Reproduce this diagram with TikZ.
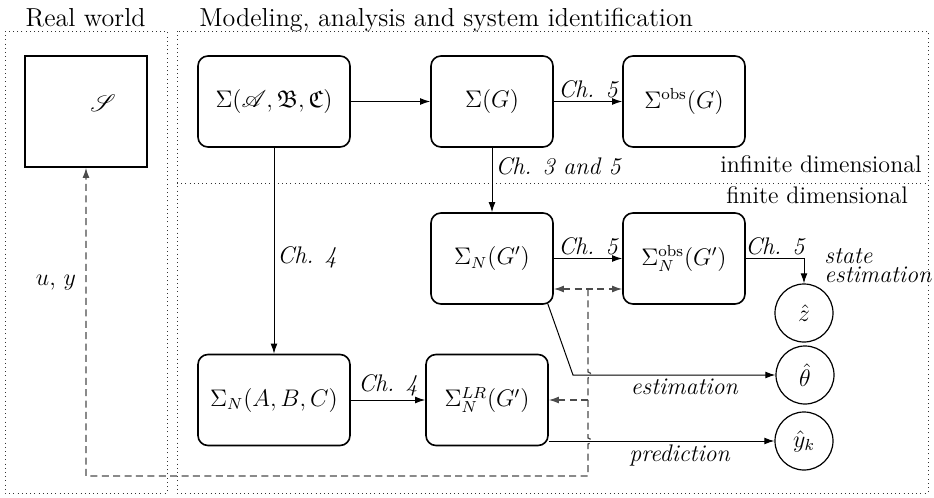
\documentclass[tikz,border=0pt]{standalone}
\usepackage{amssymb}
\usepackage{mathrsfs}
\usetikzlibrary{arrows.meta,calc}

\begin{document}
\begin{tikzpicture}[x=0.5pt,y=-0.5pt,
  >={Latex[length=5pt,width=3.4pt]},
  every node/.style={font=\fontsize{12}{14}\selectfont},
  block/.style={draw, line width=0.8pt, rounded corners=5pt,
    minimum width=61pt, minimum height=45.5pt, inner sep=0pt},
  wideblock/.style={block, minimum width=76pt},
  world/.style={draw, line width=0.8pt, minimum width=61pt, minimum height=55.5pt},
  estnode/.style={draw, circle, line width=0.6pt, minimum size=29pt, inner sep=0pt},
  frame/.style={draw=black!80, line width=0.5pt, dash pattern=on 0.5pt off 1.6pt},
  flow/.style={line width=0.5pt, ->},
  fb/.style={draw=black!70, line width=0.6pt, dash pattern=on 3.5pt off 2.2pt},
  chap/.style={font=\fontsize{12}{9.5}\selectfont\itshape, inner sep=1.5pt},
  plain/.style={inner sep=0pt},
  heading/.style={plain, font=\fontsize{13}{15}\selectfont},
]
\useasboundingbox (0,0) rectangle (934,498);

% dotted frames: real world on the left, modelling on the right
\draw[frame] (5,31) rectangle (167,493);
\draw[frame] (177,31) rectangle (928,493);
\draw[frame] (177,183) -- (928,183);

\node[heading, anchor=base] (rwtitle) at (85.5,26) {Real world};
\node[heading, anchor=base west] (mtitle) at (199,26) {Modeling, analysis and system identification};
\node[plain, anchor=base east] (infdim) at (922,172) {infinite dimensional};
\node[plain, anchor=base west] (findim) at (726,203) {finite dimensional};

% the physical system
\node[world] (sys) at (86,111.5) {};
\node (sysname) at (103,103) {$\mathscr{S}$};

% model blocks
\node[wideblock] (abc)   at (274,101.5) {$\Sigma(\mathscr{A},\mathfrak{B},\mathfrak{C})$};
\node[block]     (g)     at (492,101.5) {$\Sigma(G)$};
\node[block]     (gobs)  at (684,101.5) {$\Sigma^{\mathrm{obs}}(G)$};
\node[block]     (ng)    at (492,258.5) {$\Sigma_N(G')$};
\node[block]     (ngobs) at (684,258.5) {$\Sigma_N^{\mathrm{obs}}(G')$};
\node[wideblock] (nabc)  at (274,400)   {$\Sigma_N(A,B,C)$};
\node[block]     (lr)    at (487,400)   {$\Sigma_N^{LR}(G')$};

% estimated quantities
\node[estnode] (zhat)  at (804,313) {$\hat z$};
\node[estnode] (thhat) at (805,375) {$\hat\theta$};
\node[estnode] (yhat)  at (804,441) {$\hat y_k$};

% model derivations
\draw[flow] (abc) -- (g);
\draw[flow] (g) -- node[chap, above] {Ch. 5} (gobs);
\draw[flow] (g) -- node[chap, right, pos=0.29] {Ch. 3 and 5} (ng);
\draw[flow] (abc) -- node[chap, right, pos=0.53] {Ch. 4} (nabc);
\draw[flow] (nabc) -- node[chap, above] {Ch. 4} (lr);
\draw[flow] (ng) -- node[chap, above] {Ch. 5} (ngobs);
\draw[flow] (ngobs.east) -| node[chap, above, pos=0.25] {Ch. 5} (zhat.north);
\node[chap, anchor=west, align=left] (stateest) at (821,266) {state\\estimation};

% estimation and prediction outputs
\coordinate (estbend) at (573,375);
\draw[flow] ([xshift=-3pt,yshift=0.5pt]ng.south east) -- (estbend)
  -- node[chap, below, pos=0.55] {estimation} (thhat.west);
\draw[flow] (lr.east |- yhat.west) -- node[chap, below, pos=0.58] {prediction} (yhat.west);

% measured data u, y fed back to the system and models
\coordinate (fbtop) at (588,289);
\coordinate (fbbase) at (0,476);
\draw[fb, <->] (ng.east |- fbtop) -- (ngobs.west |- fbtop);
\draw[fb, ->] (fbtop)
  -- ($(fbtop |- thhat.west)+(0,-3)$) arc[start angle=90, end angle=-90, radius=1.5pt]
  -- ($(fbtop |- yhat.west)+(0,-3)$) arc[start angle=90, end angle=-90, radius=1.5pt]
  -- (fbtop |- fbbase) -| (sys.south);
\draw[fb, ->] (fbtop |- lr.east) -- (lr.east);
\node (uy) at (56,283) {$u$, $y$};
\end{tikzpicture}
\end{document}
